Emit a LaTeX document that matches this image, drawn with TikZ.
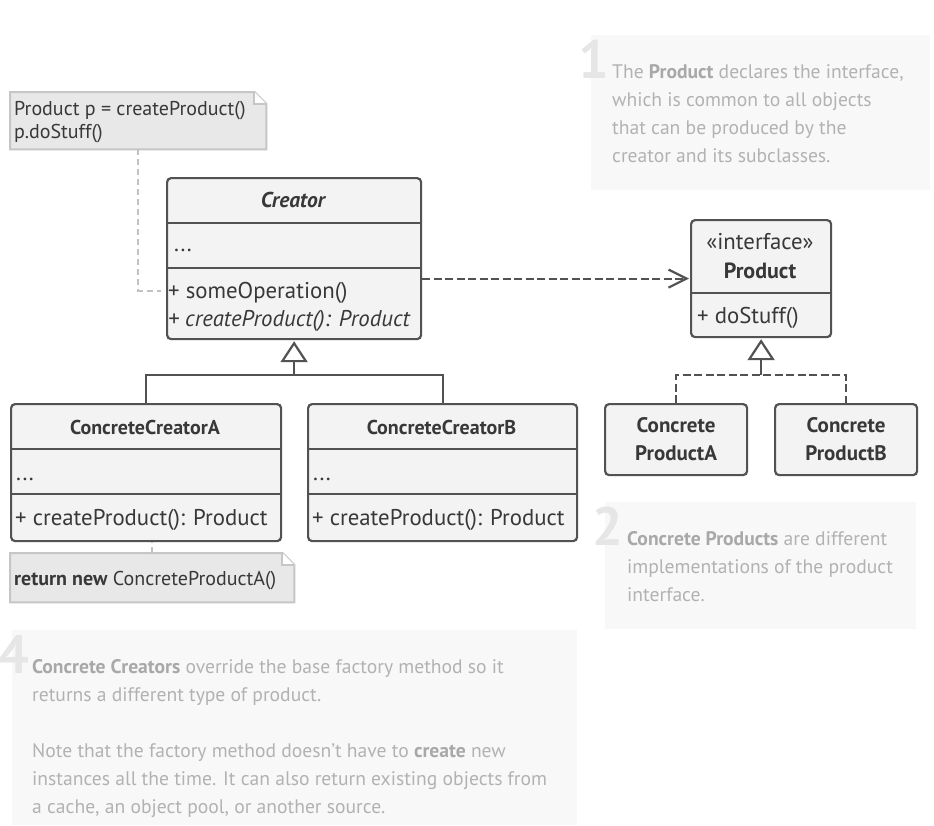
\documentclass[tikz,border=0pt]{standalone}
\usepackage{fontspec}
\setmainfont{PT Sans}
\usetikzlibrary{arrows.meta}

\definecolor{ink}{HTML}{383838}
\definecolor{boxline}{HTML}{525252}
\definecolor{boxfill}{HTML}{F3F3F3}
\definecolor{notefill}{HTML}{E8E8E8}
\definecolor{noteline}{HTML}{C6C6C6}
\definecolor{notelink}{HTML}{C2C2C2}
\definecolor{descbg}{HTML}{F8F8F8}
\definecolor{desctext}{HTML}{B2B2B2}
\definecolor{descbold}{HTML}{A8A8A8}
\definecolor{bignum}{HTML}{E6E6E6}

% stacked lines whose reference point is the first baseline
\newcommand\txtlines[1]{\begin{tabular}[t]{@{}l@{}}#1\end{tabular}}

\begin{document}
\begin{tikzpicture}[x=1pt,y=-1pt,
  umlbox/.style={draw=boxline, fill=boxfill, line width=2.2pt, rounded corners=4pt,
    inner sep=0pt, anchor=north west},
  divider/.style={draw=boxline, line width=2.2pt},
  umlfont/.style={text=ink, inner sep=0pt, font=\fontsize{22.8}{26}\selectfont},
  member/.style={umlfont, anchor=base west},
  classname/.style={umlfont, anchor=base, font=\fontsize{22}{26}\selectfont\bfseries},
  notebox/.style={inner sep=0pt, anchor=north west},
  notetext/.style={text=ink, inner sep=0pt, anchor=base west,
    font=\fontsize{20}{23}\selectfont},
  notelinkstyle/.style={draw=notelink, line width=2pt, dash pattern=on 6pt off 4pt},
  depend/.style={draw=boxline, line width=2.2pt, dash pattern=on 8pt off 3.5pt,
    -{Straight Barb[length=18pt,width=18pt,line width=2.2pt]}},
  realize/.style={draw=boxline, line width=2.2pt, dash pattern=on 8pt off 3.5pt},
  inherit/.style={draw=boxline, line width=2.2pt},
  hollowtri/.style={-{Triangle[open,length=21pt,width=27pt,line width=2.2pt]}},
  descpanel/.style={fill=descbg, draw=none},
  desc/.style={text=desctext, inner sep=0pt, anchor=base west,
    font=\fontsize{19.6}{28}\selectfont},
  num/.style={text=bignum, inner sep=0pt, anchor=base west,
    font=\fontsize{54}{54}\selectfont\bfseries},
  fold/.style={draw=noteline, line width=2pt, fill=white},
]
\useasboundingbox (0,0) rectangle (934,825);
\fill[white] (0,0) rectangle (934,825);

% ---------- explanatory panels ----------
\fill[descpanel] (591,35) rectangle (930,190);
\node[num] (n1) at (578,78) {1};
\node[desc] (d1) at (612,78) {\txtlines{The \textcolor{descbold}{\bfseries Product} declares the interface,\\
which is common to all objects\\
that can be produced by the\\
creator and its subclasses.}};

\fill[descpanel] (605,502) rectangle (916,629);
\node[num] (n2) at (592,545) {2};
\node[desc] (d2) at (627,545) {\txtlines{\textcolor{descbold}{\bfseries Concrete Products} are different\\
implementations of the product\\
interface.}};

\fill[descpanel] (12,630) rectangle (577,825);
\node[num] (n4) at (-2,673) {4};
\node[desc] (d4) at (32,673) {\txtlines{\textcolor{descbold}{\bfseries Concrete Creators} override the base factory method so it\\
returns a different type of product.\\[28pt]
Note that the factory method doesn’t have to \textcolor{descbold}{\bfseries create} new\\
instances all the time. It can also return existing objects from\\
a cache, an object pool, or another source.}};

% ---------- notes (dog-eared corner at top right) ----------
\node[notebox, minimum width=256pt, minimum height=57pt] (note1) at (10,92) {};
\filldraw[fill=notefill, draw=noteline, line width=2pt]
  (note1.north west) -- ([xshift=-12pt]note1.north east)
  -- ([yshift=-12pt]note1.north east) -- (note1.south east)
  -- (note1.south west) -- cycle;
\draw[fold]
  ([xshift=-12pt]note1.north east) -- ([xshift=-12pt,yshift=-12pt]note1.north east)
  -- ([yshift=-12pt]note1.north east);
\node[notetext] (note1txt) at (14,115) {\txtlines{Product p = createProduct()\\p.doStuff()}};

\node[notebox, minimum width=284pt, minimum height=49pt] (note2) at (10,553) {};
\filldraw[fill=notefill, draw=noteline, line width=2pt]
  (note2.north west) -- ([xshift=-12pt]note2.north east)
  -- ([yshift=-12pt]note2.north east) -- (note2.south east)
  -- (note2.south west) -- cycle;
\draw[fold]
  ([xshift=-12pt]note2.north east) -- ([xshift=-12pt,yshift=-12pt]note2.north east)
  -- ([yshift=-12pt]note2.north east);
\node[notetext] (note2txt) at (14,585) {\textbf{return new} ConcreteProductA()};

% ---------- Creator ----------
\node[umlbox, minimum width=254pt, minimum height=161pt] (creator) at (166,177) {};
\draw[divider] (creator.west |- 0,223) -- (creator.east |- 0,223);
\draw[divider] (creator.west |- 0,268) -- (creator.east |- 0,268);
\node[classname, font=\fontsize{21.5}{26}\selectfont\bfseries\itshape] (creatorname) at (293,207) {Creator};
\node[member] (creatorattr) at (174,251) {...};
\node[member] (creatorop1) at (168,298) {+ someOperation()};
\node[member, font=\fontsize{22.8}{26}\selectfont\itshape] (creatorop2) at (168,326) {+ createProduct(): Product};

% ---------- Product interface ----------
\node[umlbox, minimum width=140pt, minimum height=117pt] (product) at (690,219) {};
\draw[divider] (product.west |- 0,293) -- (product.east |- 0,293);
\node[umlfont, anchor=base] (stereo) at (760,249) {«interface»};
\node[classname] (productname) at (760,278) {Product};
\node[member] (productop) at (697,323) {+ doStuff()};

% ---------- Concrete creators ----------
\node[umlbox, minimum width=270pt, minimum height=137pt] (cca) at (10,403) {};
\draw[divider] (cca.west |- 0,449) -- (cca.east |- 0,449);
\draw[divider] (cca.west |- 0,494) -- (cca.east |- 0,494);
\node[classname, font=\fontsize{20}{24}\selectfont\bfseries] (ccaname) at (145,434) {ConcreteCreatorA};
\node[member] (ccaattr) at (16,480) {...};
\node[member] (ccaop) at (15,525) {+ createProduct(): Product};

\node[umlbox, minimum width=269pt, minimum height=137pt] (ccb) at (307,403) {};
\draw[divider] (ccb.west |- 0,449) -- (ccb.east |- 0,449);
\draw[divider] (ccb.west |- 0,494) -- (ccb.east |- 0,494);
\node[classname, font=\fontsize{20}{24}\selectfont\bfseries] (ccbname) at (441.5,434) {ConcreteCreatorB};
\node[member] (ccbattr) at (313,480) {...};
\node[member] (ccbop) at (312,525) {+ createProduct(): Product};

% ---------- Concrete products ----------
\node[umlbox, minimum width=142pt, minimum height=71pt] (cpa) at (604,403) {};
\node[classname, align=center, anchor=center, font=\fontsize{21}{28}\selectfont\bfseries] (cpaname) at (cpa.center) {Concrete\\ProductA};
\node[umlbox, minimum width=142pt, minimum height=71pt] (cpb) at (774,403) {};
\node[classname, align=center, anchor=center, font=\fontsize{21}{28}\selectfont\bfseries] (cpbname) at (cpb.center) {Concrete\\ProductB};

% ---------- connectors ----------
\coordinate (cjoin) at (creator.south |- 0,375);
\draw[inherit] (cca.north) |- (cjoin) -| (ccb.north);
\draw[inherit, hollowtri] (cjoin) -- ([yshift=-1pt]creator.south);

\coordinate (pjoin) at (product.south |- 0,375);
\draw[realize] (cpa.north) |- (pjoin) -| (cpb.north);
\draw[inherit, hollowtri] (pjoin) -- ([yshift=-1pt]product.south);

\draw[depend] (creator.east |- product.west) -- ([xshift=-1pt]product.west);

\coordinate (opbend) at (note1.south |- 0,291);
\draw[notelinkstyle] (note1.south) -- (opbend) -- ([xshift=-5pt]creator.west |- opbend);
\draw[notelinkstyle] (note2.north) -- (note2.north |- cca.south);
\end{tikzpicture}
\end{document}
